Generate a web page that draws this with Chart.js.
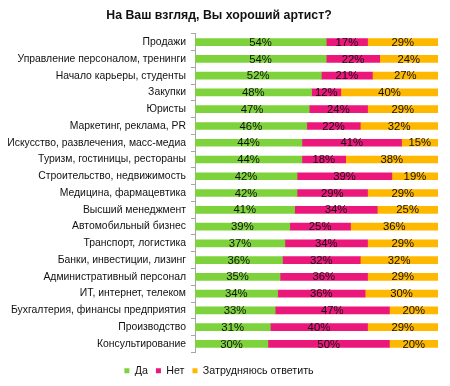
<!DOCTYPE html>
<html>
<head>
<meta charset="utf-8">
<script src="https://cdn.jsdelivr.net/npm/chart.js@4"></script>
<style>
html,body{margin:0;padding:0;background:#fff;}
#wrap{width:450px;height:386px;}
</style>
</head>
<body>
<div id="wrap"><canvas id="c" width="450" height="386"></canvas></div>
<script>
const categories = [
  "Продажи",
  "Управление персоналом, тренинги",
  "Начало карьеры, студенты",
  "Закупки",
  "Юристы",
  "Маркетинг, реклама, PR",
  "Искусство, развлечения, масс-медиа",
  "Туризм, гостиницы, рестораны",
  "Строительство, недвижимость",
  "Медицина, фармацевтика",
  "Высший менеджмент",
  "Автомобильный бизнес",
  "Транспорт, логистика",
  "Банки, инвестиции, лизинг",
  "Административный персонал",
  "ИТ, интернет, телеком",
  "Бухгалтерия, финансы предприятия",
  "Производство",
  "Консультирование"
];
const yesValues    = [54, 54, 52, 48, 47, 46, 44, 44, 42, 42, 41, 39, 37, 36, 35, 34, 33, 31, 30];
const noValues     = [17, 22, 21, 12, 24, 22, 41, 18, 39, 29, 34, 25, 34, 32, 36, 36, 47, 40, 50];
const unsureValues = [29, 24, 27, 40, 29, 32, 15, 38, 19, 29, 25, 36, 29, 32, 29, 30, 20, 29, 20];
const seriesNames = ["Да", "Нет", "Затрудняюсь ответить"];
const title = "На Ваш взгляд, Вы хороший артист?";

const FONT = "'Liberation Sans', Arial, sans-serif";

const valueLabels = {
  id: 'valueLabels',
  afterDatasetsDraw(chart) {
    const ctx = chart.ctx;
    ctx.save();
    ctx.font = "11.3px " + FONT;
    ctx.fillStyle = "#111";
    ctx.textAlign = "center";
    ctx.textBaseline = "middle";
    chart.data.datasets.forEach((ds, di) => {
      const meta = chart.getDatasetMeta(di);
      meta.data.forEach((bar, i) => {
        const v = ds.data[i];
        const cx = (bar.x + bar.base) / 2;
        ctx.fillText(v + "%", cx, bar.y + 0.5);
      });
    });
    ctx.restore();
  }
};

new Chart(document.getElementById('c'), {
  type: 'bar',
  data: {
    labels: categories,
    datasets: [
      { label: seriesNames[0], data: yesValues, backgroundColor: '#7ED33C' },
      { label: seriesNames[1], data: noValues, backgroundColor: '#EC177A' },
      { label: seriesNames[2], data: unsureValues, backgroundColor: '#FFB800' }
    ]
  },
  options: {
    indexAxis: 'y',
    responsive: false,
    animation: false,
    layout: { padding: { left: 0, right: 12, top: 0, bottom: 0 } },
    datasets: { bar: { barThickness: 7, borderWidth: 0 } },
    scales: {
      x: {
        stacked: true, min: 0, max: 100, display: true,
        ticks: { display: false },
        grid: { display: false },
        border: { display: false },
        afterFit(scale) { scale.height = 5; }
      },
      y: {
        stacked: true,
        afterFit(scale) { scale.width = 195; },
        border: { display: true, color: '#A6A6A6', width: 1 },
        grid: { drawOnChartArea: false, drawTicks: true, tickLength: 4, color: '#A6A6A6', offset: true },
        ticks: { color: '#111', font: { family: FONT, size: 10.4 }, padding: 5, autoSkip: false }
      }
    },
    plugins: {
      title: {
        display: true, text: title, color: '#111',
        font: { family: FONT, size: 12.3, weight: 'bold' },
        padding: { top: 8, bottom: 11 }
      },
      legend: {
        position: 'bottom',
        labels: {
          color: '#111', font: { family: FONT, size: 10.7 },
          boxWidth: 5, boxHeight: 5, padding: 8
        }
      },
      tooltip: { enabled: false }
    }
  },
  plugins: [valueLabels]
});
</script>
</body>
</html>
